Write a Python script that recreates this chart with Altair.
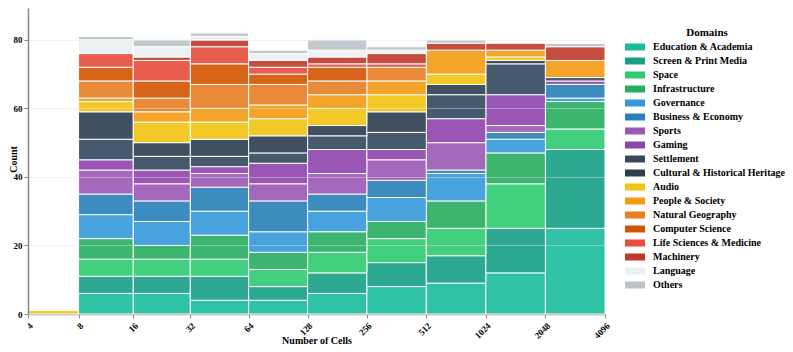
import altair as alt
import pandas as pd

bin_edges = [4, 8, 16, 32, 64, 128, 256, 512, 1024, 2048, 4096]

domains = [
    "Education & Academia", "Screen & Print Media", "Space", "Infrastructure",
    "Governance", "Business & Economy", "Sports", "Gaming", "Settlement",
    "Cultural & Historical Heritage", "Audio", "People & Society",
    "Natural Geography", "Computer Science", "Life Sciences & Medicine",
    "Machinery", "Language", "Others",
]
colors = [
    "#1abc9c", "#16a085", "#2ecc71", "#27ae60", "#3498db", "#2980b9",
    "#9b59b6", "#8e44ad", "#34495e", "#2c3e50", "#f1c40f", "#f39c12",
    "#e67e22", "#d35400", "#e74c3c", "#c0392b", "#ecf0f1", "#bdc3c7",
]

# counts per bin: [4-8, 8-16, 16-32, 32-64, 64-128, 128-256, 256-512, 512-1024, 1024-2048, 2048-4096]
education = [0, 6, 6, 4, 4, 6, 8, 9, 12, 25]
screen_print = [0, 5, 5, 7, 4, 6, 7, 8, 13, 23]
space = [0, 5, 5, 5, 5, 6, 7, 8, 13, 6]
infrastructure = [0, 6, 4, 7, 5, 6, 5, 8, 9, 8]
governance = [0, 7, 7, 7, 6, 6, 7, 8, 4, 1]
business = [0, 6, 6, 7, 9, 5, 5, 1, 2, 4]
sports = [0, 7, 5, 4, 5, 6, 6, 8, 2, 0]
gaming = [0, 3, 4, 2, 6, 7, 3, 7, 9, 1]
settlement = [0, 6, 4, 3, 3, 4, 5, 7, 9, 1]
cultural = [0, 8, 4, 5, 5, 3, 6, 3, 1, 0]
audio = [1, 3, 6, 5, 5, 5, 5, 3, 1, 0]
people = [0, 1, 3, 4, 4, 4, 4, 7, 2, 5]
natural_geo = [0, 5, 4, 7, 6, 4, 4, 0, 0, 0]
computer_sci = [0, 4, 5, 6, 3, 4, 0, 0, 0, 0]
life_sci = [0, 4, 6, 5, 2, 1, 1, 0, 0, 0]
machinery = [0, 0, 1, 2, 2, 2, 3, 2, 2, 4]
language = [0, 4, 3, 1, 2, 2, 1, 0, 0, 0]
others = [0, 1, 2, 1, 1, 3, 1, 1, 0, 1]

series = [education, screen_print, space, infrastructure, governance, business,
          sports, gaming, settlement, cultural, audio, people, natural_geo,
          computer_sci, life_sci, machinery, language, others]

rows = []
for i, (name, vals) in enumerate(zip(domains, series)):
    for j, v in enumerate(vals):
        if v > 0:
            rows.append({"lo": bin_edges[j], "hi": bin_edges[j + 1],
                         "domain": name, "order": i, "count": v})
df = pd.DataFrame(rows)

FONT = "Liberation Serif"

chart = alt.Chart(df).transform_stack(
    stack="count", groupby=["lo"], as_=["y0", "y1"],
    sort=[alt.SortField("order", order="ascending")],
).mark_rect(opacity=0.9, stroke="white", strokeWidth=1).encode(
    x=alt.X("lo:Q",
            scale=alt.Scale(type="symlog", domain=[4, 4096], nice=False),
            axis=alt.Axis(values=bin_edges, format="d", labelAngle=-45,
                          labelAlign="right", labelBaseline="top",
                          labelPadding=3,
                          labelFontSize=9, grid=False, title="Number of Cells",
                          titleY=29, titleBaseline="alphabetic")),
    x2="hi:Q",
    y=alt.Y("y0:Q",
            scale=alt.Scale(domain=[0, 89.3], nice=False),
            axis=alt.Axis(values=[0, 20, 40, 60, 80], grid=True, zindex=1,
                          gridColor="#e4e4e4", gridOpacity=0.45,
                          labelFontSize=9, title="Count",
                          titleX=-15, titleY=151, titleBaseline="middle")),
    y2="y1:Q",
    color=alt.Color("domain:N",
                    scale=alt.Scale(domain=domains, range=colors),
                    legend=alt.Legend(
                        title="Domains", orient="none", legendX=602, legendY=19,
                        symbolType="M-2,-0.7H2V0.7H-2Z", symbolSize=100,
                        symbolOpacity=1, symbolStrokeWidth=0,
                        labelOffset=13, rowPadding=4, padding=0,
                        titleAnchor="middle", titleAlign="center",
                        titleFontSize=11, labelFontSize=10,
                        titleFont=FONT, labelFont=FONT,
                        titleFontWeight="bold", labelFontWeight="bold",
                        titleColor="black", labelColor="black",
                        titlePadding=4, labelLimit=300)),
).properties(
    width=577, height=306,
    autosize=alt.AutoSizeParams(type="none"),
    padding={"left": 20, "top": 0, "right": 180, "bottom": 30},
).configure_view(stroke=None).configure_axis(
    labelFont=FONT, titleFont=FONT, labelFontWeight="bold",
    titleFontWeight="bold", labelColor="black", titleColor="black",
    titleFontSize=10, domainColor="#888888", domainWidth=1.5,
    tickColor="#888888", tickSize=4, labelPadding=2,
)

chart.save("out.html", embed_options={"renderer": "svg", "actions": False})
